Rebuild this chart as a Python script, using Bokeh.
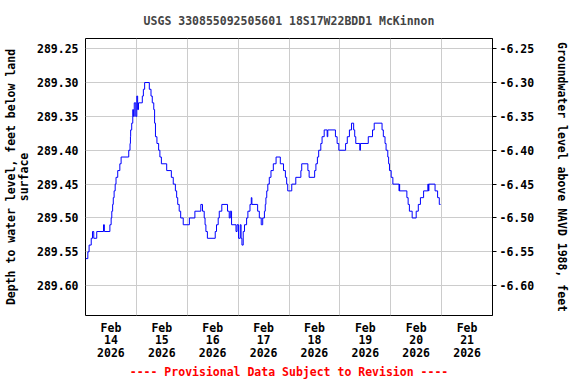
from bokeh.plotting import figure
from bokeh.models import Range1d, LinearAxis, FixedTicker, NumeralTickFormatter
from bokeh.embed import file_html
from bokeh.resources import INLINE

# hours since 2026-02-14 00:00 at which the reading changes, and depth (ft below land surface)
hours = [0, 1.1, 1.7, 2.7, 3.3, 3.9, 5.3, 8.5, 8.9, 11.5, 12.1, 12.4, 12.8, 13.1, 13.5,
         14.0, 14.4, 15.2, 16.2, 16.8, 20.4, 21.0, 21.2, 21.3, 21.8, 22.3, 22.6, 23.0,
         23.7, 24.2, 24.6, 25.0, 26.8, 27.3, 27.9, 30.1, 30.9, 31.5, 32.2, 32.6, 33.0,
         33.7, 34.5, 35.1, 35.8, 38.3, 40.5, 41.4, 42.4, 43.0, 43.5, 44.2, 44.9, 46.1,
         49.0, 51.6, 54.4, 55.2, 56.0, 56.4, 56.8, 57.5, 61.2, 61.8, 62.6, 63.1, 64.3,
         67.0, 67.8, 68.3, 68.9, 71.0, 71.5, 72.2, 73.0, 73.4, 73.8, 74.4, 75.0, 76.0,
         76.6, 77.6, 78.2, 78.5, 81.2, 82.0, 82.9, 83.6, 84.4, 84.8, 85.1, 85.5, 86.0,
         86.7, 87.5, 88.6, 89.9, 91.9, 93.4, 94.3, 94.9, 95.4, 97.3, 99.2, 101.6, 102.0,
         104.9, 105.5, 108.1, 108.7, 109.4, 110.0, 111.0, 111.6, 112.6, 114.0, 114.3,
         117.9, 118.7, 119.5, 122.7, 123.5, 124.5, 125.5, 126.5, 127.0, 127.5, 129.4,
         129.7, 133.4, 135.4, 136.2, 139.9, 140.5, 141.3, 141.8, 142.6, 143.0, 143.4,
         144.2, 145.0, 147.9, 148.1, 148.2, 151.6, 152.2, 152.8, 154.1, 156.0, 157.0,
         158.0, 159.5, 161.5, 161.8, 162.0, 164.9, 166.1, 166.9, 167.5]
depth = [289.56, 289.55, 289.54, 289.53, 289.52, 289.53, 289.52, 289.51, 289.52, 289.51,
         289.50, 289.49, 289.48, 289.47, 289.46, 289.45, 289.44, 289.43, 289.42, 289.41,
         289.40, 289.39, 289.38, 289.37, 289.36, 289.34, 289.35, 289.33, 289.35, 289.32,
         289.34, 289.33, 289.32, 289.31, 289.30, 289.31, 289.32, 289.33, 289.34, 289.36,
         289.38, 289.39, 289.40, 289.41, 289.42, 289.43, 289.44, 289.45, 289.46, 289.47,
         289.48, 289.49, 289.50, 289.51, 289.50, 289.49, 289.48, 289.49, 289.50, 289.51,
         289.52, 289.53, 289.52, 289.51, 289.50, 289.49, 289.48, 289.49, 289.50, 289.49,
         289.51, 289.52, 289.51, 289.53, 289.51, 289.53, 289.54, 289.52, 289.51, 289.50,
         289.49, 289.48, 289.47, 289.48, 289.49, 289.50, 289.51, 289.50, 289.49, 289.48,
         289.47, 289.46, 289.45, 289.44, 289.43, 289.42, 289.41, 289.42, 289.43, 289.44,
         289.45, 289.46, 289.45, 289.44, 289.43, 289.42, 289.43, 289.44, 289.43, 289.42,
         289.41, 289.40, 289.39, 289.38, 289.37, 289.38, 289.37, 289.38, 289.39, 289.40,
         289.39, 289.38, 289.37, 289.36, 289.37, 289.38, 289.39, 289.40, 289.39, 289.38,
         289.37, 289.36, 289.37, 289.38, 289.39, 289.40, 289.41, 289.42, 289.43, 289.44,
         289.45, 289.46, 289.45, 289.46, 289.47, 289.48, 289.49, 289.50, 289.49, 289.48,
         289.47, 289.46, 289.45, 289.46, 289.45, 289.46, 289.47, 289.48, 289.48]

left_ticks = [289.25, 289.30, 289.35, 289.40, 289.45, 289.50, 289.55, 289.60]
right_ticks = [-6.25, -6.30, -6.35, -6.40, -6.45, -6.50, -6.55, -6.60]
day_bounds = [24, 48, 72, 96, 120, 144, 168]
label_pos = [12, 36, 60, 84, 108, 132, 156, 180]
day_labels = ["Feb\n14\n2026", "Feb\n15\n2026", "Feb\n16\n2026", "Feb\n17\n2026",
              "Feb\n18\n2026", "Feb\n19\n2026", "Feb\n20\n2026", "Feb\n21\n2026"]
datum_offset = 283.0

FONT = "DejaVu Sans Mono"
FS = "11.5px"

ymin, ymax = 289.235, 289.644
p = figure(frame_width=407, frame_height=277, output_backend="svg", toolbar_location=None,
           x_range=Range1d(0, 192), y_range=Range1d(ymax, ymin),
           min_border_left=0, min_border_right=0, min_border_top=0, min_border_bottom=0)
p.background_fill_color = "white"
p.border_fill_color = "white"
p.outline_line_color = "black"
p.outline_line_width = 1

p.title.text = "USGS 330855092505601 18S17W22BDD1 McKinnon"
p.title.align = "center"
p.title.text_font = FONT
p.title.text_font_size = FS
p.title.text_font_style = "bold"
p.title.standoff = 22

p.step(hours, depth, mode="after", line_color="#0000ff", line_width=1)

# left axis
ya = p.yaxis[0]
ya.ticker = FixedTicker(ticks=left_ticks)
ya.formatter = NumeralTickFormatter(format="0.00")
ya.axis_label = "Depth to water level, feet below land\nsurface"
ya.major_tick_out = 0
ya.major_tick_in = 0
ya.minor_tick_out = 0
ya.minor_tick_in = 0
ya.axis_line_color = None
ya.major_label_standoff = 7
ya.axis_label_standoff = 3
ya.axis_label_text_line_height = 0.95

# bottom axis
xa = p.xaxis[0]
xa.ticker = FixedTicker(ticks=label_pos)
xa.major_label_overrides = {k: v for k, v in zip(label_pos, day_labels)}
xa.major_tick_out = 0
xa.major_tick_in = 0
xa.minor_tick_out = 0
xa.minor_tick_in = 0
xa.axis_line_color = None
xa.major_label_standoff = 5
xa.major_label_text_line_height = 0.92
xa.axis_label = "---- Provisional Data Subject to Revision ----"
xa.axis_label_text_color = "red"
xa.axis_label_standoff = 2

# right axis
p.extra_y_ranges = {"navd": Range1d(datum_offset - ymax, datum_offset - ymin)}
ra = LinearAxis(y_range_name="navd", ticker=FixedTicker(ticks=right_ticks),
                formatter=NumeralTickFormatter(format="0.00"),
                axis_label="Groundwater level above NAVD 1988, feet")
ra.major_tick_out = 4
ra.major_tick_in = 0
ra.minor_tick_out = 0
ra.minor_tick_in = 0
ra.axis_line_color = "black"
ra.major_label_standoff = 3
ra.axis_label_standoff = 18
p.add_layout(ra, "right")

for ax in (ya, xa, ra):
    ax.major_label_text_font = FONT
    ax.major_label_text_font_size = FS
    ax.major_label_text_font_style = "bold"
    ax.major_label_text_color = "black"
    ax.axis_label_text_font = FONT
    ax.axis_label_text_font_size = FS
    ax.axis_label_text_font_style = "bold"
    if ax is not xa:
        ax.axis_label_text_color = "black"

p.xgrid.ticker = FixedTicker(ticks=day_bounds)
p.ygrid.ticker = FixedTicker(ticks=left_ticks)
for g in (p.xgrid, p.ygrid):
    g.grid_line_color = "#cccccc"
    g.grid_line_width = 1

open("out.html", "w").write(file_html(p, INLINE))
